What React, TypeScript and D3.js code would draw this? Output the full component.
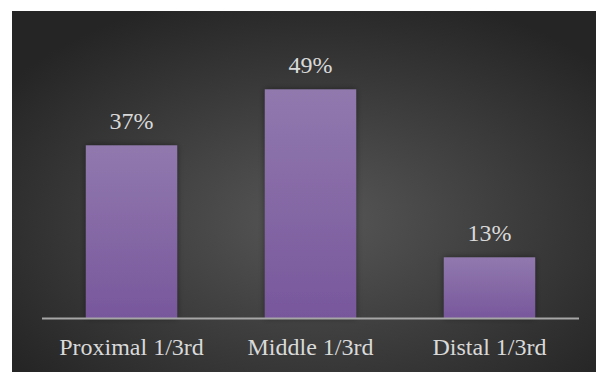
import React from "react";
import * as d3 from "d3";

const categories: string[] = ["Proximal 1/3rd", "Middle 1/3rd", "Distal 1/3rd"];
const values: number[] = [37, 49, 13];
const valueLabels: string[] = ["37%", "49%", "13%"];

const W = 596;
const H = 372;
const FONT = "Liberation Serif";

export default function App() {
  const x = d3.scaleBand<string>().domain(categories).range([42, 579]).paddingInner(0.49).paddingOuter(0.245);
  const y = d3.scaleLinear().domain([0, 60]).range([318, 38]);
  return (
    <svg
      width={W}
      height={H}
      fontFamily={FONT}
      style={{ position: "absolute", left: 0, top: 0, fontFamily: FONT }}
    >
      <defs>
        <radialGradient id="bg" cx="52%" cy="58%" r="65%">
          <stop offset="0%" stopColor="#575757" />
          <stop offset="100%" stopColor="#252525" />
        </radialGradient>
        <linearGradient id="bar" x1="0" y1="0" x2="0" y2="1">
          <stop offset="0%" stopColor="#9179ae" />
          <stop offset="100%" stopColor="#78579c" />
        </linearGradient>
        <filter id="sh" x="-20%" y="-20%" width="140%" height="140%">
          <feGaussianBlur in="SourceAlpha" stdDeviation="3" />
          <feComponentTransfer>
            <feFuncA type="linear" slope="0.45" />
          </feComponentTransfer>
          <feMerge>
            <feMergeNode />
            <feMergeNode in="SourceGraphic" />
          </feMerge>
        </filter>
      </defs>
      <rect x={0} y={0} width={W} height={H} fill="#ffffff" />
      <rect x={12} y={11} width={W - 12} height={H - 11} fill="url(#bg)" />
      {categories.map((c, i) => (
        <rect
          key={"b" + c}
          x={x(c)}
          y={y(values[i])}
          width={x.bandwidth()}
          height={y(0) - y(values[i])}
          fill="url(#bar)"
          filter="url(#sh)"
        />
      ))}
      <line x1={42} x2={579} y1={318.5} y2={318.5} stroke="#a6a6a6" strokeWidth={2} />
      <g fontFamily={FONT} fontSize={24} fill="#d9d9d9" textAnchor="middle">
        {categories.map((c, i) => (
          <text
            key={"v" + c}
            x={(x(c) as number) + x.bandwidth() / 2}
            y={y(values[i]) - 16}
            style={{ fontFamily: FONT }}
          >
            {valueLabels[i]}
          </text>
        ))}
        {categories.map((c) => (
          <text
            key={"c" + c}
            x={(x(c) as number) + x.bandwidth() / 2}
            y={355}
            style={{ fontFamily: FONT }}
          >
            {c}
          </text>
        ))}
      </g>
    </svg>
  );
}
